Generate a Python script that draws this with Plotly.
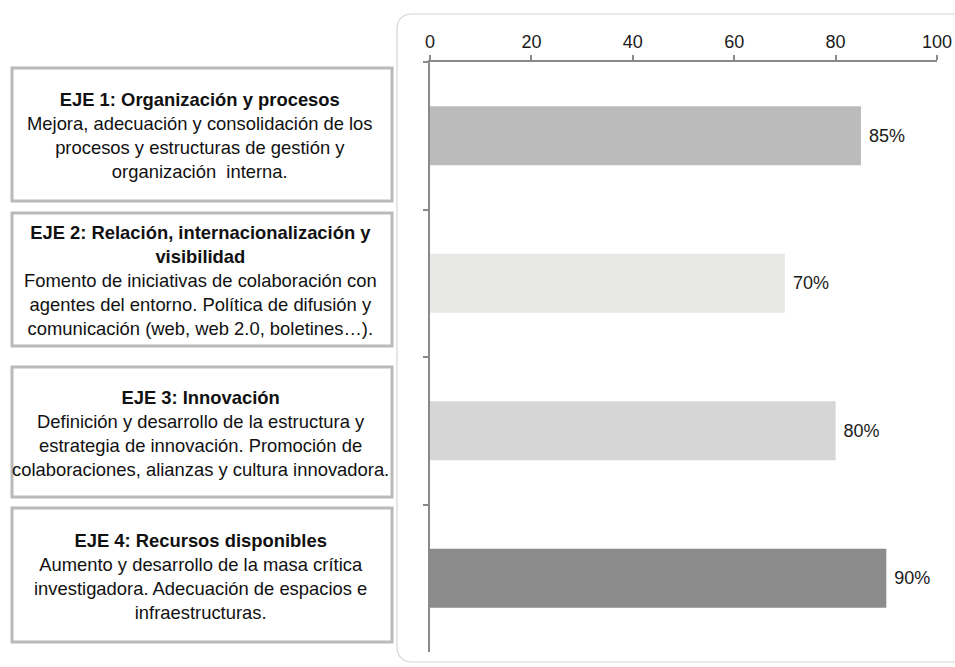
import plotly.graph_objects as go

categories = ["EJE 1", "EJE 2", "EJE 3", "EJE 4"]
values = [85, 70, 80, 90]
bar_colors = ["#bbbbbb", "#e8e8e7", "#d6d6d6", "#8c8c8c"]
box_titles = [
    "EJE 1: Organización y procesos",
    "EJE 2: Relación, internacionalización y<br>visibilidad",
    "EJE 3: Innovación",
    "EJE 4: Recursos disponibles",
]
box_texts = [
    "Mejora, adecuación y consolidación de los<br>procesos y estructuras de gestión y<br>organización  interna.",
    "Fomento de iniciativas de colaboración con<br>agentes del entorno. Política de difusión y<br>comunicación (web, web 2.0, boletines…).",
    "Definición y desarrollo de la estructura y<br>estrategia de innovación. Promoción de<br>colaboraciones, alianzas y cultura innovadora.",
    "Aumento y desarrollo de la masa crítica<br>investigadora. Adecuación de espacios e<br>infraestructuras.",
]
x_ticks = [0, 20, 40, 60, 80, 100]

W, H = 955, 667
L, R, T, B = 430, 18, 62, 15
PW, PH = W - L - R, H - T - B

def px(x):
    return (x - L) / PW

def py(y):
    return (H - B - y) / PH

FONT = "Liberation Sans, Arial, sans-serif"
FS = 18

fig = go.Figure()
fig.add_trace(go.Bar(
    x=values, y=categories, orientation="h",
    marker=dict(color=bar_colors, line=dict(width=0)),
    width=0.4,
    text=[f"\u00a0{v}%" for v in values], textposition="outside",
    textfont=dict(size=FS, color="#1a1a1a", family=FONT),
    cliponaxis=False, hoverinfo="skip",
))

shapes = []
# rounded outer frame (open to the right, running off the page)
x0, y0, x1, y1, r = 397, 14, 1020, 662, 16
path = (f"M {px(x1)},{py(y0)} L {px(x0 + r)},{py(y0)} "
        f"Q {px(x0)},{py(y0)} {px(x0)},{py(y0 + r)} "
        f"L {px(x0)},{py(y1 - r)} Q {px(x0)},{py(y1)} {px(x0 + r)},{py(y1)} "
        f"L {px(x1)},{py(y1)}")
shapes.append(dict(type="path", xref="paper", yref="paper", path=path,
                   line=dict(color="#d6d6d6", width=1.2), layer="below"))

boxes = [(68, 201), (213, 346), (367, 497), (508, 642)]
annotations = []
for (ta, tb), title, txt in zip(boxes, box_titles, box_texts):
    shapes.append(dict(type="rect", xref="paper", yref="paper",
                       x0=px(12), x1=px(392), y0=py(tb), y1=py(ta),
                       line=dict(color="#bababa", width=3), fillcolor="white"))
    annotations.append(dict(
        xref="paper", yref="paper", x=px(200), y=py((ta + tb) / 2 + 1),
        xanchor="center", yanchor="middle", showarrow=False, align="center",
        text=f"<b>{title}</b><br>{txt}",
        font=dict(size=18.4, color="#111111", family=FONT),
    ))

fig.update_layout(
    width=W, height=H, autosize=False,
    margin=dict(l=L, r=R, t=T, b=B, autoexpand=False),
    paper_bgcolor="white", plot_bgcolor="rgba(0,0,0,0)",
    showlegend=False, bargap=0.6,
    shapes=shapes, annotations=annotations,
    xaxis=dict(side="top", range=[0, 100], tickvals=x_ticks, showgrid=False,
               automargin=False,
               zeroline=False, showline=True, linecolor="#8a8a8a", linewidth=1.5,
               ticks="outside", ticklen=5, tickcolor="#8a8a8a", tickwidth=1.5,
               tickfont=dict(size=FS, color="#1a1a1a", family=FONT)),
    yaxis=dict(categoryorder="array", categoryarray=categories, autorange="reversed",
               automargin=False,
               showticklabels=False, showgrid=False, zeroline=False,
               showline=True, linecolor="#8a8a8a", linewidth=1.5,
               ticks="outside", tickson="boundaries", ticklen=5,
               tickcolor="#8a8a8a", tickwidth=1.5),
)

fig.write_html(
    "out.html",
    config={"displayModeBar": False},
    post_script="document.body.style.margin='0';document.body.style.overflow='hidden';",
)
